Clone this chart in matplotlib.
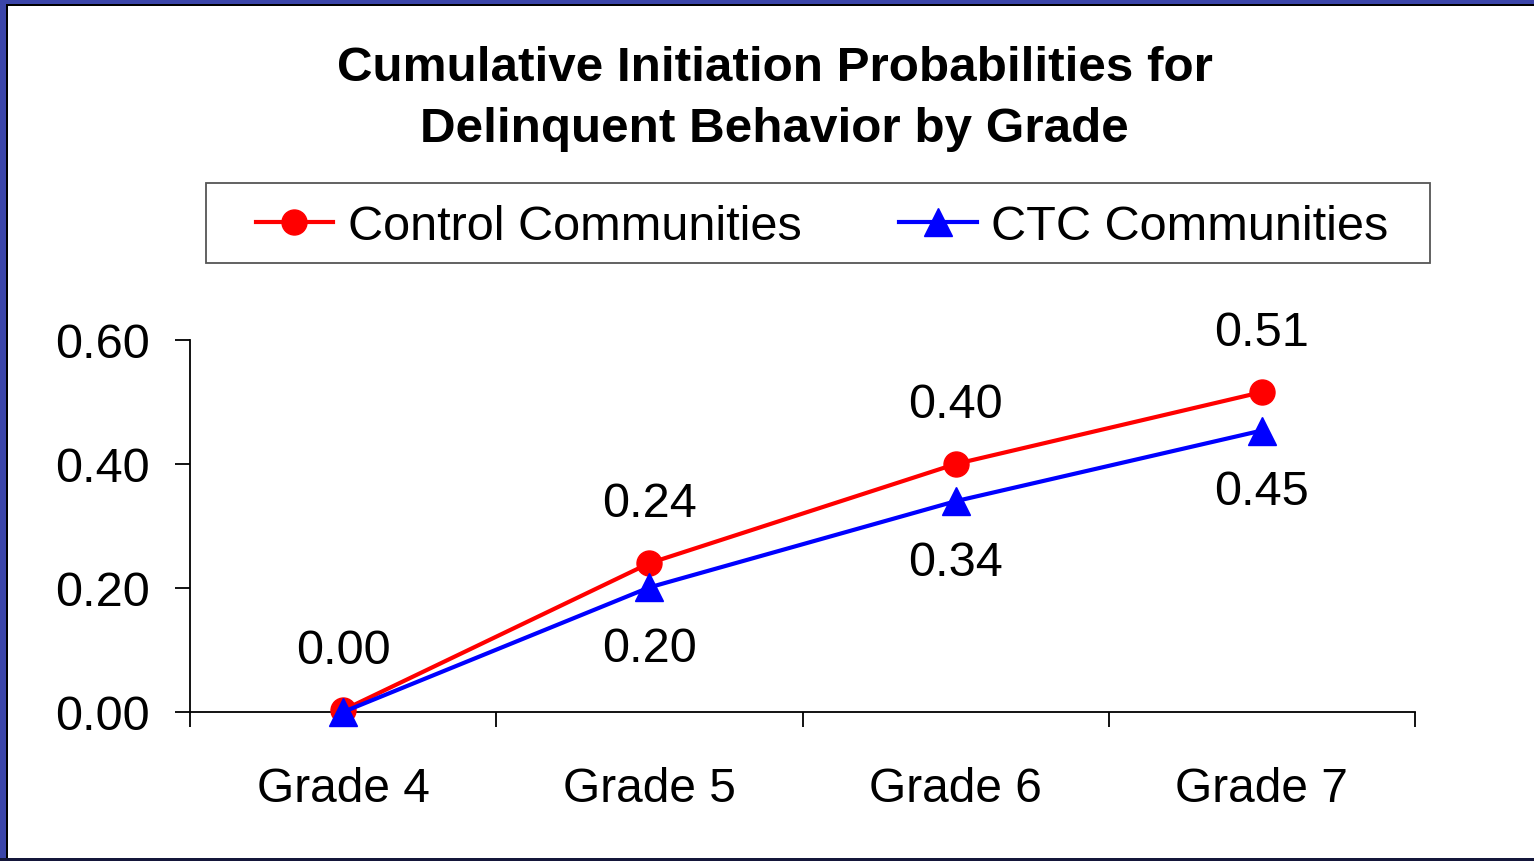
import matplotlib
matplotlib.use("Agg")
import matplotlib.pyplot as plt
from matplotlib.patches import Rectangle

# datos
grados = ["Grade 4", "Grade 5", "Grade 6", "Grade 7"]
control = [0.003, 0.24, 0.40, 0.516]
ctc = [0.0, 0.201, 0.34, 0.454]
etiquetas_control = ["0.00", "0.24", "0.40", "0.51"]
etiquetas_ctc = ["", "0.20", "0.34", "0.45"]
yticks = [0.0, 0.2, 0.4, 0.6]

plt.rcParams['font.family'] = ['Liberation Sans', 'DejaVu Sans']

W, H = 1534, 862
fig = plt.figure(figsize=(W / 100, H / 100), dpi=100)
fig.patch.set_facecolor('white')

# marco azul de la diapositiva
azul = '#3B45A9'
fig.patches.append(Rectangle((0, 1 - 5 / H), 1, 5 / H, transform=fig.transFigure,
                             facecolor=azul, edgecolor='none', zorder=0))
fig.patches.append(Rectangle((0, 1 - 7 / H), 1, 2 / H, transform=fig.transFigure,
                             facecolor='black', edgecolor='none', zorder=0))
fig.patches.append(Rectangle((0, 0), 6 / W, 1, transform=fig.transFigure,
                             facecolor=azul, edgecolor='none', zorder=0))
fig.patches.append(Rectangle((6 / W, 0), 2 / W, 1 - 5 / H, transform=fig.transFigure,
                             facecolor='black', edgecolor='none', zorder=0))
fig.patches.append(Rectangle((0, 0), 1, 3 / H, transform=fig.transFigure,
                             facecolor='#14163a', edgecolor='none', zorder=0))

ax = fig.add_axes([190 / W, 149 / H, (1415 - 190) / W, (713 - 341) / H])
x = list(range(len(grados)))

ax.plot(x, control, color='#FF0000', linewidth=3, marker='o', markersize=18,
        label='Control Communities', zorder=3, clip_on=False)
ax.plot(x, ctc, color='#0000FF', linewidth=3, marker='^', markersize=20,
        label='CTC Communities', zorder=4, clip_on=False)

for xi, v, t in zip(x, control, etiquetas_control):
    if t:
        ax.annotate(t, (xi, v), xytext=(0, 43), textcoords='offset points',
                    ha='center', va='center', fontsize=35)
for xi, v, t in zip(x, ctc, etiquetas_ctc):
    if t:
        ax.annotate(t, (xi, v), xytext=(0, -44), textcoords='offset points',
                    ha='center', va='center', fontsize=35)

ax.set_xlim(-0.5, 3.5)
ax.set_ylim(0, 0.6)
ax.set_yticks(yticks)
ax.set_yticklabels([f"{v:.2f}" for v in yticks])
ax.set_xticks([-0.5, 0.5, 1.5, 2.5, 3.5])
ax.set_xticklabels([])
ax.set_xticks(x, minor=True)
ax.set_xticklabels(grados, minor=True)
ax.tick_params(axis='x', which='major', direction='out', length=11, width=1.3)
ax.tick_params(axis='x', which='minor', length=0, pad=39, labelsize=34.5)
ax.tick_params(axis='y', direction='out', length=11, width=1.3, pad=18, labelsize=35)
for s in ['top', 'right']:
    ax.spines[s].set_visible(False)
for s in ['left', 'bottom']:
    ax.spines[s].set_linewidth(1.3)

fig.text(0.505, 1 - 99 / H,
         "Cumulative Initiation Probabilities for\nDelinquent Behavior by Grade",
         ha='center', va='center', fontsize=35.6, fontweight='bold', linespacing=1.45)

# leyenda con marco propio
fig.patches.append(Rectangle((206 / W, 1 - 264 / H), (1430 - 206) / W, 80 / H,
                             transform=fig.transFigure, facecolor='white',
                             edgecolor='#555555', linewidth=1.3, zorder=1))
leg = fig.legend(loc='center', bbox_to_anchor=(822 / W, 1 - 228 / H), ncol=2,
                 frameon=False, fontsize=35, handlelength=1.6, handletextpad=0.3,
                 columnspacing=2.0)

fig.savefig("out.png", dpi=100)
